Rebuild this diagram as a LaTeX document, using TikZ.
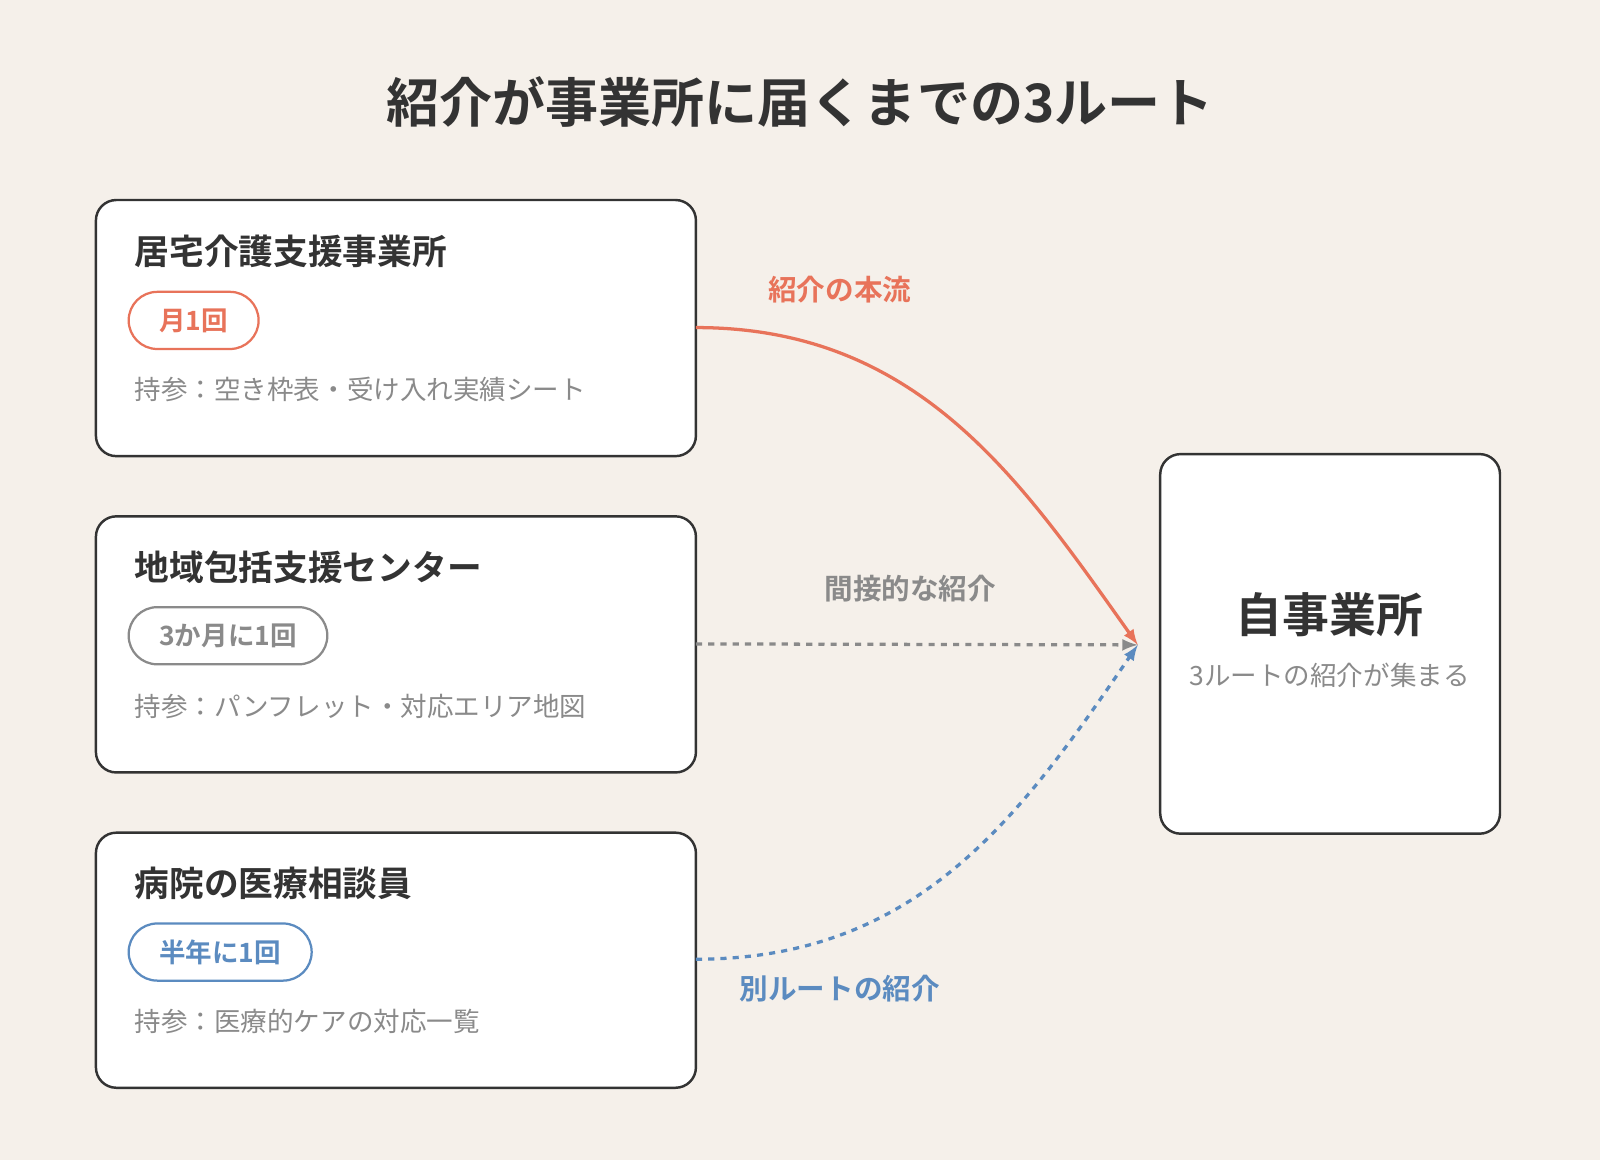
\documentclass[tikz,border=0pt]{standalone}
\usepackage{fontspec}
\setmainfont{Noto Sans CJK JP}[BoldFont={Noto Sans CJK JP Bold}]
\usetikzlibrary{positioning}
\definecolor{bgc}{HTML}{F5F0EA}
\definecolor{ink}{HTML}{333333}
\definecolor{redc}{HTML}{E8735A}
\definecolor{grayc}{HTML}{8A8A8A}
\definecolor{bluec}{HTML}{5B8BC0}
\tikzset{
  card/.style={rectangle, draw=ink, line width=1.2pt, fill=white, rounded corners=10pt},
  head/.style={anchor=west, font=\bfseries\fontsize{17}{20}\selectfont, text=ink},
  pill/.style={rectangle, draw=#1, line width=1.1pt, text=#1, rounded corners=14pt,
    minimum height=28pt, inner xsep=15pt, anchor=west, font=\bfseries\fontsize{13}{15}\selectfont},
  note/.style={anchor=west, text=grayc, font=\fontsize{13}{15}\selectfont},
  lbl/.style={font=\bfseries\fontsize{14}{16}\selectfont}
}
\begin{document}
\begin{tikzpicture}[x=0.5pt, y=-0.5pt]
\useasboundingbox[fill=bgc] (0,0) rectangle (1568,1137);

%Title
\node (title) at (784,100) [font=\bfseries\fontsize{26}{30}\selectfont, text=ink]{紹介が事業所に届くまでの3ルート};

%Cards
\draw[card] (94,196) rectangle (682,447);
\draw[card] (94,506) rectangle (682,757);
\draw[card] (94,816) rectangle (682,1066);
\coordinate (Card1) at (682,321);
\coordinate (Card2) at (682,631);
\coordinate (Card3) at (682,940);

\node (Head1) at (125,246) [head]{居宅介護支援事業所};
\node (Tag1) at (125,314) [pill=redc]{月1回};
\node (Note1) at (125,382) [note]{持参：空き枠表・受け入れ実績シート};

\node (Head2) at (125,556) [head]{地域包括支援センター};
\node (Tag2) at (125,623) [pill=grayc]{3か月に1回};
\node (Note2) at (125,692) [note]{持参：パンフレット・対応エリア地図};

\node (Head3) at (125,866) [head]{病院の医療相談員};
\node (Tag3) at (125,933) [pill=bluec]{半年に1回};
\node (Note3) at (125,1001) [note]{持参：医療的ケアの対応一覧};

%Office
\draw[card] (1137,445) rectangle (1470,817);
\node (Office) at (1303,602) [font=\bfseries\fontsize{23}{26}\selectfont, text=ink]{自事業所};
\node (OfficeNote) [below=6pt of Office, text=grayc, font=\fontsize{13}{15}\selectfont]{3ルートの紹介が集まる};
\coordinate (Hub) at (1115,632);

%Links
\draw[-latex, redc, line width=1.6pt] (Card1) .. controls (900,321) and (1000,470) .. (Hub);
\draw[-latex, grayc, line width=1.6pt, dashed] (Card2) -- (Hub);
\draw[-latex, bluec, line width=1.6pt, dashed] (Card3) .. controls (900,940) and (1000,800) .. (Hub);

%Labels
\node (Lbl1) at (823,284) [lbl, text=redc]{紹介の本流};
\node (Lbl2) at (892,577) [lbl, text=grayc]{間接的な紹介};
\node (Lbl3) at (823,969) [lbl, text=bluec]{別ルートの紹介};
\end{tikzpicture}
\end{document}
